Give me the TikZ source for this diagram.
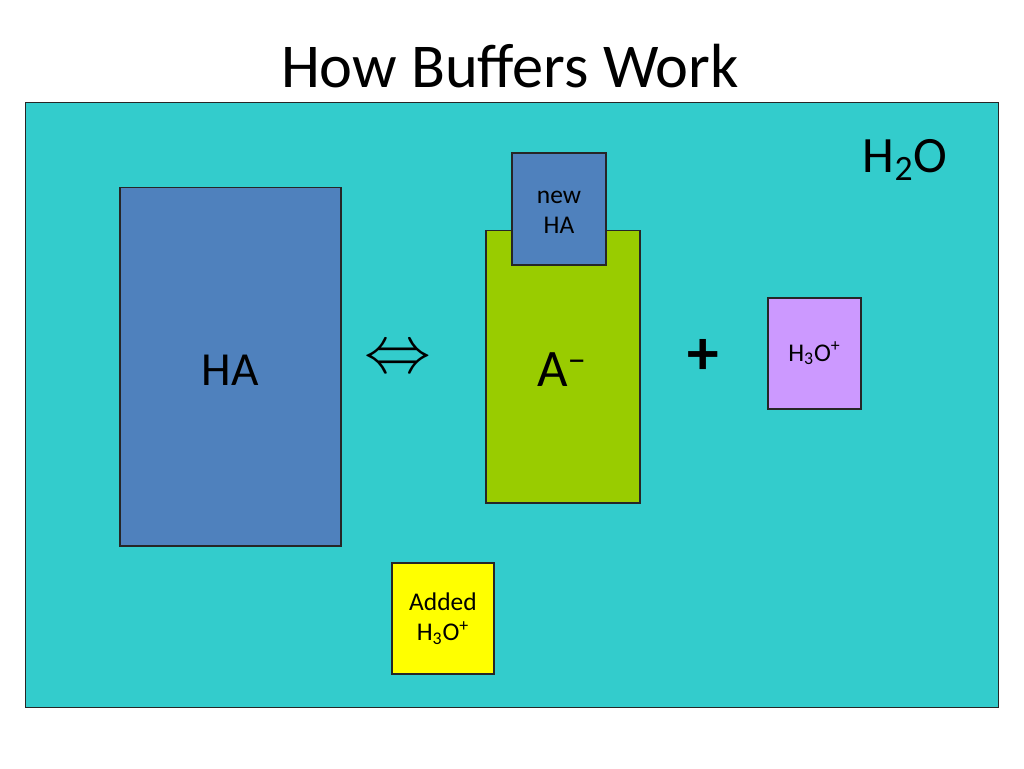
\documentclass[tikz,border=0pt]{standalone}
\usepackage{fontspec}
\setmainfont{Carlito}
\usepackage{tikz}
\usetikzlibrary{positioning}

\definecolor{water}{HTML}{33CCCC}
\definecolor{acidblue}{HTML}{4F81BD}
\definecolor{basegreen}{HTML}{99CC00}
\definecolor{hydlilac}{HTML}{CC99FF}
\definecolor{addyellow}{HTML}{FFFF00}

\begin{document}
\begin{tikzpicture}[x=0.02cm, y=-0.02cm,
    box/.style={draw=black!85, line width=0.6pt, inner sep=0pt, align=center},
    small/.style={font=\fontsize{14.5}{17}\selectfont}]
    \useasboundingbox[fill=white] (0,0) rectangle (1024,768);

    % Title
    \node (title) at (510,66) {\fontsize{35.5}{40}\selectfont How Buffers Work};

    % Water
    \node[box, fill=water, minimum width=19.48cm, minimum height=12.12cm] (water) at (512,405) {};
    \node (h2o) at (905,160) {\fontsize{29}{34}\selectfont H\textsubscript{2}O};

    % Acid and conjugate base
    \node[box, fill=acidblue, minimum width=4.42cm, minimum height=7.18cm] (ha) at (230.5,366.5) {};
    \node (halabel) at (230,370) {\fontsize{27}{32}\selectfont HA};
    \node (equil) at (398,360) {\scalebox{3.8}{$\Leftrightarrow$}};

    \node[box, fill=basegreen, minimum width=3.08cm, minimum height=5.46cm] (base) at (563,366.5) {};
    \node (baselabel) at (562,370) {\fontsize{30}{34}\selectfont A\textsuperscript{--}};
    \node[box, fill=acidblue, minimum width=1.88cm, minimum height=2.24cm, small] (newha) at (559,209) {\\[-6pt]new\\HA};

    % Hydronium
    \node (plus) at (703,357) {\fontsize{36}{40}\selectfont\bfseries +};
    \node[box, fill=hydlilac, minimum width=1.86cm, minimum height=2.22cm, small] (hydro) at (814.5,353.5) {H\textsubscript{3}O\textsuperscript{+}};

    % Added acid
    \node[box, fill=addyellow, minimum width=2.04cm, minimum height=2.22cm, small] (added) at (443,618.5) {Added\\H\textsubscript{3}O\textsuperscript{+}};
\end{tikzpicture}
\end{document}
